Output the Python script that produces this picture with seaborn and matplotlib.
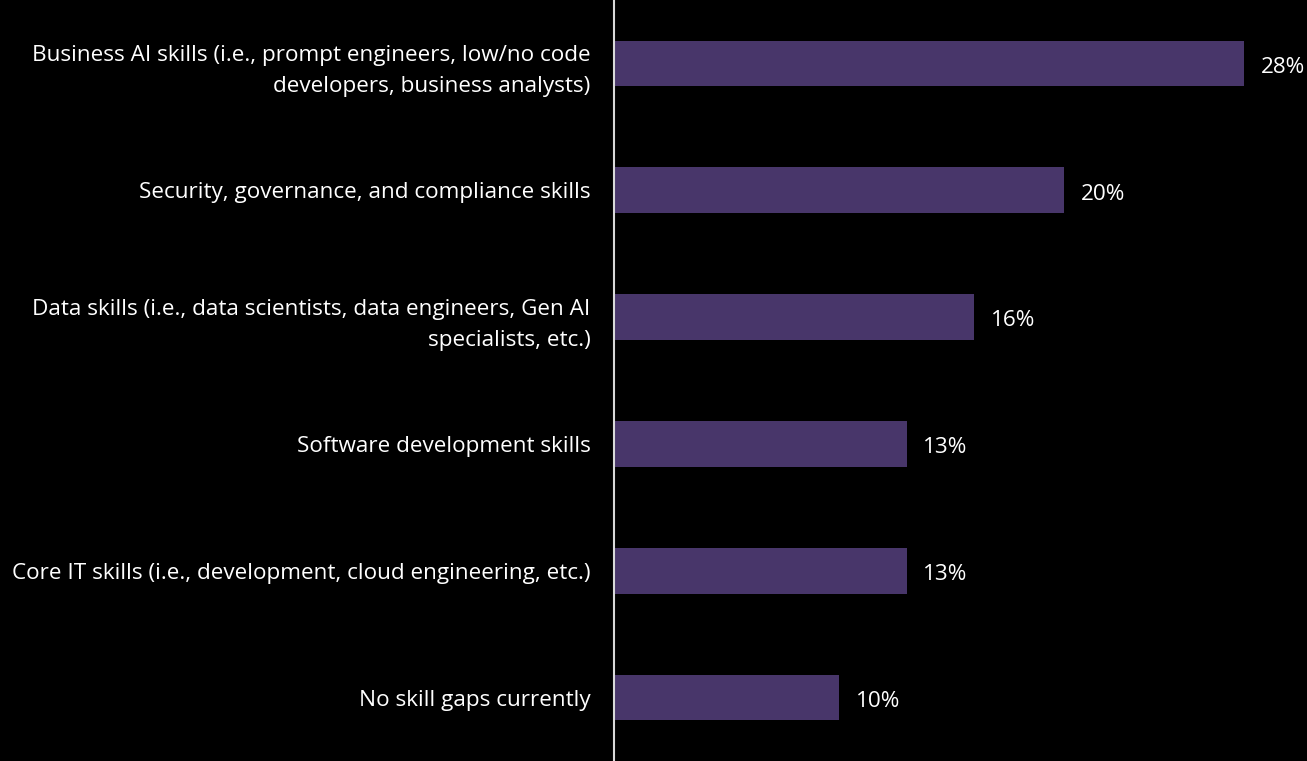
import matplotlib
matplotlib.use("Agg")
import matplotlib.pyplot as plt
import seaborn as sns
import pandas as pd

categories = [
    "Business AI skills (i.e., prompt engineers, low/no code\ndevelopers, business analysts)",
    "Security, governance, and compliance skills",
    "Data skills (i.e., data scientists, data engineers, Gen AI\nspecialists, etc.)",
    "Software development skills",
    "Core IT skills (i.e., development, cloud engineering, etc.)",
    "No skill gaps currently",
]
values = [28, 20, 16, 13, 13, 10]

bar_color = "#48366a"
text_color = "white"
font_size = 16.2

sns.set_theme(style="white")
plt.rcParams["font.family"] = ["Open Sans", "DejaVu Sans"]

df = pd.DataFrame({"category": categories, "value": values})

fig = plt.figure(figsize=(13.07, 7.61), dpi=100, facecolor="black")
ax = fig.add_axes([614 / 1307, 0.0, 1 - 614 / 1307, 1.0])
ax.set_facecolor("black")

sns.barplot(data=df, x="value", y="category", color=bar_color,
            width=0.36, saturation=1, ax=ax, orient="h",
            edgecolor="none", linewidth=0)

ax.set_xlim(0, 30.8)
ax.set_ylim(len(categories) - 0.5, -0.5)
ax.set_xlabel("")
ax.set_ylabel("")
ax.set_xticks([])
ax.tick_params(axis="y", length=0, pad=17, labelsize=font_size, labelcolor=text_color)
for lbl in ax.get_yticklabels():
    lbl.set_horizontalalignment("right")
    lbl.set_multialignment("right")
    lbl.set_linespacing(1.65)
    lbl.set_y(lbl.get_position()[1])

for side in ["top", "right", "bottom"]:
    ax.spines[side].set_visible(False)
ax.spines["left"].set_color("#d9d9d9")
ax.spines["left"].set_linewidth(1.5)

for i, v in enumerate(values):
    ax.text(v + 0.75, i + 0.03, f"{v}%", va="center", ha="left",
            color=text_color, fontsize=font_size)

fig.savefig("out.png", dpi=100, facecolor="black")
